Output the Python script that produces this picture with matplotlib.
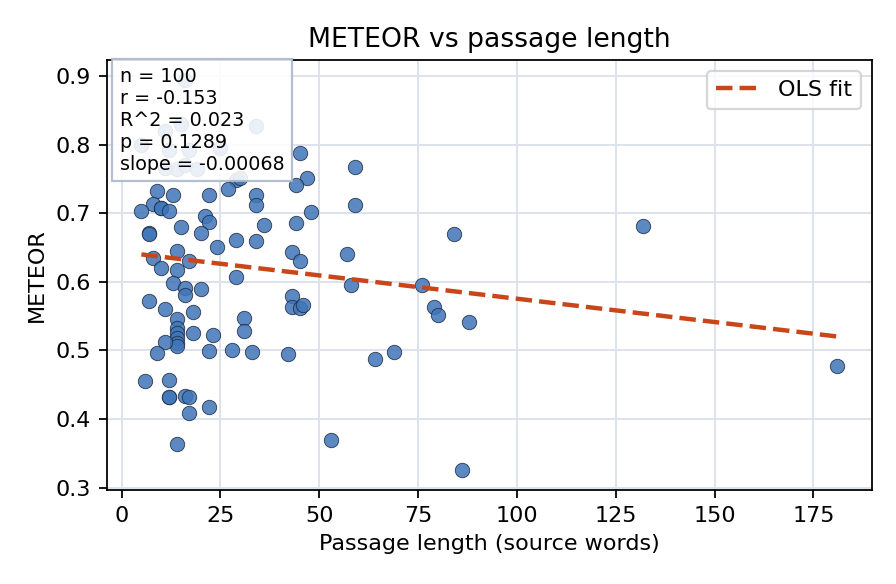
import numpy as np
import matplotlib
matplotlib.use("Agg")
import matplotlib.pyplot as plt

# passage length (source words) and METEOR score
passage_len = [
    16, 11, 15, 12, 17, 5, 25, 14, 16, 19, 11, 29, 30,
    34, 45, 59, 47, 44, 34, 34, 59, 48, 36, 44, 34, 84, 57, 43, 45,
    58, 76, 43, 43, 45, 46, 79, 80, 88, 33, 42, 64, 69, 53, 86,
    132, 181,
    9, 13, 22, 27, 8, 10, 10, 12, 5, 21, 22, 15, 20, 7, 7, 29, 24,
    8, 14, 17, 14, 10, 29,
    13, 16, 16, 20, 7, 11, 18, 14, 14, 14, 14, 14, 14, 18, 23, 31, 31,
    11, 9, 22, 28, 6, 12, 12, 12, 16, 17, 17, 22, 14,
]
meteor = [
    0.895, 0.820, 0.830, 0.793, 0.793, 0.800, 0.796, 0.764, 0.771, 0.764, 0.766, 0.749, 0.752,
    0.827, 0.788, 0.768, 0.752, 0.742, 0.727, 0.712, 0.712, 0.702, 0.683, 0.686, 0.660, 0.670,
    0.640, 0.644, 0.631, 0.596, 0.595, 0.579, 0.564, 0.562, 0.567, 0.564, 0.552, 0.542, 0.498,
    0.495, 0.488, 0.498, 0.370, 0.325,
    0.681, 0.478,
    0.732, 0.727, 0.727, 0.735, 0.713, 0.708, 0.708, 0.703, 0.703, 0.696, 0.688, 0.680, 0.672,
    0.671, 0.670, 0.661, 0.651, 0.635, 0.645, 0.631, 0.618, 0.620, 0.607,
    0.599, 0.591, 0.581, 0.590, 0.572, 0.561, 0.556, 0.546, 0.533, 0.525, 0.518, 0.511, 0.506,
    0.526, 0.523, 0.547, 0.528,
    0.512, 0.497, 0.499, 0.501, 0.456, 0.457, 0.432, 0.432, 0.434, 0.432, 0.409, 0.418, 0.364,
]

# OLS fit as reported on the chart
fit_slope = -0.00068
fit_intercept = 0.6435

stats_text = "n = 100\nr = -0.153\nR^2 = 0.023\np = 0.1289\nslope = -0.00068"

x = np.array(passage_len, dtype=float)
y = np.array(meteor)
xs = np.linspace(x.min(), x.max(), 100)

fig, ax = plt.subplots(figsize=(5.6, 3.65), dpi=160)
fig.subplots_adjust(left=0.119, right=0.973, top=0.897, bottom=0.161)

ax.grid(True, color="#dde3ec", linewidth=0.9, zorder=0)
ax.set_axisbelow(True)
ax.scatter(x, y, s=42, color="#3f75b8", alpha=0.85, edgecolor="#1c2a40",
           linewidth=0.4, zorder=2)
ax.plot(xs, fit_intercept + fit_slope * xs, color="#c8461a", linestyle="--",
        linewidth=2, label="OLS fit", zorder=3)

ax.set_title("METEOR vs passage length", fontsize=12)
ax.set_xlabel("Passage length (source words)", fontsize=10)
ax.set_ylabel("METEOR", fontsize=10)
ax.legend(loc="upper right", fontsize=10)
ax.text(0.017, 0.985, stats_text, transform=ax.transAxes, va="top", ha="left",
        fontsize=8.6, zorder=5,
        bbox=dict(boxstyle="square,pad=0.4", facecolor="white", alpha=0.88,
                  edgecolor="#a9b6c8"))

fig.savefig("out.png", dpi=160)
